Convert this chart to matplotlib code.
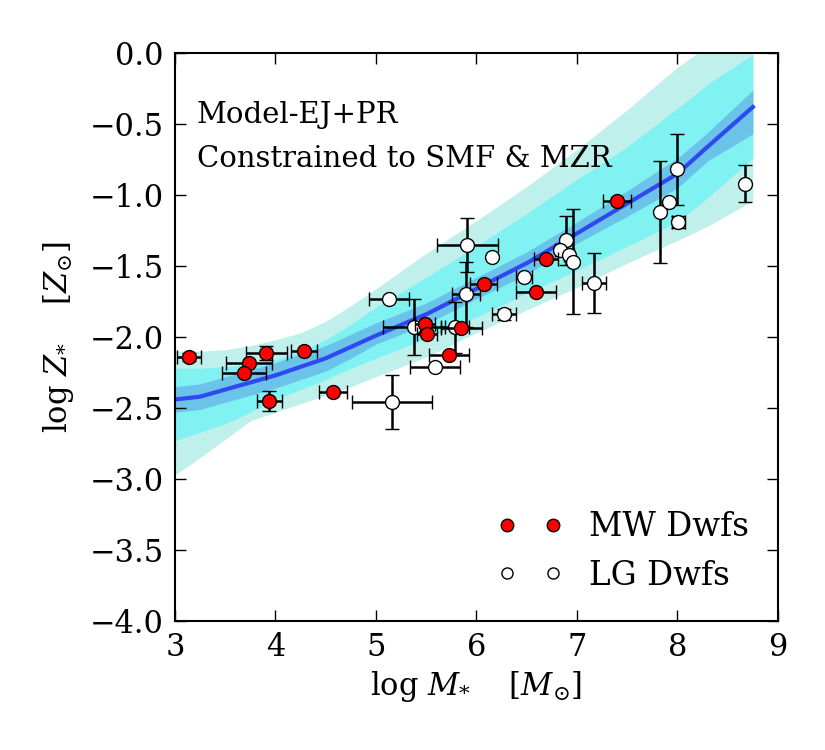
import numpy as np
import matplotlib
matplotlib.use('Agg')
import matplotlib.pyplot as plt

plt.rcParams['font.family'] = ['DejaVu Serif']
plt.rcParams['mathtext.fontset'] = 'dejavuserif'

#%% model band (log M*, log Z*)
band_x = [3.0, 3.25, 3.5, 3.75, 4.0, 4.25, 4.5, 4.75, 5.0, 5.5, 6.0, 6.5, 7.0, 7.5, 8.0, 8.3, 8.75]
model_med = [-2.44, -2.42, -2.37, -2.32, -2.27, -2.21, -2.15, -2.07, -1.99, -1.84, -1.66, -1.48, -1.27, -1.06, -0.85, -0.66, -0.38]
inner_hi = [-2.35, -2.33, -2.28, -2.23, -2.18, -2.12, -2.06, -1.98, -1.90, -1.76, -1.58, -1.40, -1.19, -0.97, -0.74, -0.56, -0.26]
inner_lo = [-2.53, -2.51, -2.46, -2.41, -2.36, -2.30, -2.24, -2.15, -2.05, -1.91, -1.73, -1.56, -1.34, -1.15, -0.95, -0.76, -0.57]
mid_hi = [-2.22, -2.22, -2.21, -2.19, -2.16, -2.10, -2.02, -1.91, -1.79, -1.58, -1.36, -1.13, -0.89, -0.66, -0.39, -0.22, -0.01]
mid_lo = [-2.73, -2.67, -2.61, -2.53, -2.44, -2.37, -2.30, -2.22, -2.15, -2.01, -1.86, -1.69, -1.53, -1.36, -1.19, -1.02, -0.74]
outer_hi = [-2.10, -2.10, -2.09, -2.06, -2.02, -1.97, -1.89, -1.78, -1.66, -1.41, -1.18, -0.94, -0.68, -0.40, -0.10, 0.05, 0.30]
outer_lo = [-2.97, -2.85, -2.72, -2.59, -2.53, -2.47, -2.41, -2.35, -2.28, -2.14, -1.97, -1.81, -1.65, -1.48, -1.32, -1.22, -1.04]

# Milky Way dwarfs
mw_x = [3.14, 3.91, 3.74, 3.69, 4.28, 3.94, 4.57, 5.49, 5.51, 5.85, 5.73, 6.07, 6.59, 6.69, 7.40]
mw_y = [-2.14, -2.11, -2.18, -2.25, -2.10, -2.45, -2.39, -1.91, -1.98, -1.94, -2.13, -1.63, -1.68, -1.45, -1.04]
mw_xerr = [0.12, 0.20, 0.23, 0.22, 0.13, 0.12, 0.14, 0.10, 0.10, 0.20, 0.20, 0.13, 0.20, 0.12, 0.14]
mw_yerr = [0.03, 0.05, 0.0, 0.0, 0.0, 0.07, 0.0, 0.0, 0.0, 0.0, 0.0, 0.0, 0.0, 0.0, 0.0]

# Local Group dwarfs
lg_x = [5.91, 6.15, 5.90, 5.13, 5.38, 5.79, 5.59, 5.16, 6.27, 6.47, 6.89, 6.83, 6.92, 6.96, 7.17, 7.83, 7.92, 8.00, 8.01, 8.67]
lg_y = [-1.35, -1.44, -1.70, -1.73, -1.93, -1.93, -2.21, -2.46, -1.84, -1.58, -1.32, -1.39, -1.42, -1.47, -1.62, -1.12, -1.05, -0.82, -1.19, -0.92]
lg_xerr = [0.30, 0.0, 0.14, 0.20, 0.31, 0.14, 0.25, 0.40, 0.12, 0.08, 0.0, 0.05, 0.05, 0.0, 0.12, 0.0, 0.0, 0.0, 0.06, 0.0]
lg_yerr = [0.19, 0.0, 0.23, 0.0, 0.20, 0.18, 0.0, 0.19, 0.04, 0.0, 0.17, 0.0, 0.0, 0.37, 0.21, 0.36, 0.0, 0.25, 0.04, 0.13]

#%%
fig = plt.figure(figsize=(8.25, 7.5), dpi=100)
ax = fig.add_axes([0.2121, 0.172, 0.7309, 0.7573])

ax.fill_between(band_x, outer_lo, outer_hi, color='#c0f0ec', lw=0, zorder=1)
ax.fill_between(band_x, mid_lo, mid_hi, color='#80f2f2', lw=0, zorder=1.1)
ax.fill_between(band_x, inner_lo, inner_hi, color='#6cc3ea', lw=0, zorder=1.2)
ax.plot(band_x, model_med, color='#3048f0', lw=3, zorder=1.3)

ax.errorbar(lg_x, lg_y, xerr=lg_xerr, yerr=lg_yerr, fmt='o', mfc='white', mec='k',
            mew=1, ms=10, ecolor='k', elinewidth=1.8, capsize=5, capthick=1.8, zorder=3)
ax.errorbar(mw_x, mw_y, xerr=mw_xerr, yerr=mw_yerr, fmt='o', mfc='red', mec='k',
            mew=1, ms=10, ecolor='k', elinewidth=1.8, capsize=5, capthick=1.8, zorder=4)

# legend handles (markers only)
ax.plot([], [], 'o', mfc='red', mec='k', mew=1, ms=9, label='MW Dwfs')
ax.plot([], [], 'o', mfc='white', mec='k', mew=1, ms=8, label='LG Dwfs')
ax.legend(loc='lower right', frameon=False, numpoints=2, fontsize=23.5, handlelength=2.0)

ax.text(0.036, 0.877, 'Model-EJ+PR', transform=ax.transAxes, fontsize=21, va='baseline')
ax.text(0.036, 0.80, 'Constrained to SMF & MZR', transform=ax.transAxes, fontsize=21, va='baseline')

ax.set_xlim(3, 9)
ax.set_ylim(-4.0, 0.0)
ax.set_xticks(np.arange(3, 10, 1))
ax.set_yticks(np.arange(-4.0, 0.01, 0.5))
ax.tick_params(direction='in', top=True, right=True, length=8, width=1, labelsize=22, pad=8)
for s in ax.spines.values():
    s.set_linewidth(1.5)

ax.set_xlabel(r'log $M_{*}$    [$M_{\odot}$]', fontsize=22)
ax.set_ylabel(r'log $Z_{*}$    [$Z_{\odot}$]', fontsize=22, labelpad=10)

fig.savefig('out.png', dpi=100)
